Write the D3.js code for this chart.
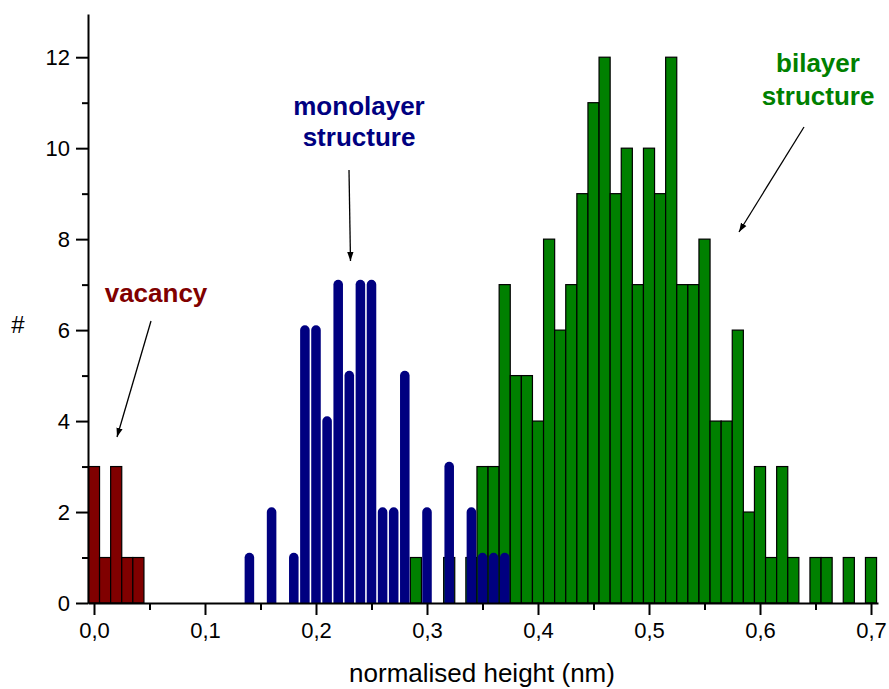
<!DOCTYPE html>
<html>
<head>
<meta charset="utf-8">
<script src="https://cdn.jsdelivr.net/npm/d3@7"></script>
<style>
  html, body { margin: 0; padding: 0; background: #fff; }
  svg { display: block; }
  text { font-family: "Liberation Sans", Arial, sans-serif; }
</style>
</head>
<body>
<svg id="chart" width="889" height="689"></svg>
<script>
// Histogram of normalised heights, bins of 0.01 nm
const vacancyBins   = [0.00, 0.01, 0.02, 0.03, 0.04];
const vacancyCounts = [3, 1, 3, 1, 1];

const monolayerBins   = [0.14, 0.16, 0.18, 0.19, 0.20, 0.21, 0.22, 0.23, 0.24, 0.25,
                         0.26, 0.27, 0.28, 0.30, 0.32, 0.34, 0.35, 0.36, 0.37];
const monolayerCounts = [1, 2, 1, 6, 6, 4, 7, 5, 7, 7,
                         2, 2, 5, 2, 3, 2, 1, 1, 1];

const bilayerBins   = [0.29, 0.32, 0.34, 0.35, 0.36, 0.37, 0.38, 0.39, 0.40, 0.41,
                       0.42, 0.43, 0.44, 0.45, 0.46, 0.47, 0.48, 0.49, 0.50, 0.51,
                       0.52, 0.53, 0.54, 0.55, 0.56, 0.57, 0.58, 0.59, 0.60, 0.61,
                       0.62, 0.63, 0.65, 0.66, 0.68, 0.70];
const bilayerCounts = [1, 1, 1, 3, 3, 7, 5, 5, 4, 8,
                       6, 7, 9, 11, 12, 9, 10, 7, 10, 9,
                       12, 7, 7, 8, 4, 4, 6, 2, 3, 1,
                       3, 1, 1, 1, 1, 1];

const xTickValues = [0, 0.1, 0.2, 0.3, 0.4, 0.5, 0.6, 0.7];
const xMinorTicks = [0.05, 0.15, 0.25, 0.35, 0.45, 0.55, 0.65];
const yTickValues = [0, 2, 4, 6, 8, 10, 12];
const yMinorTicks = [1, 3, 5, 7, 9, 11];

const xTitle = "normalised height (nm)";
const yTitle = "#";
const labels = [
  { lines: ["vacancy"], color: "#800000", x: 156, y: 302, gap: 0 },
  { lines: ["monolayer", "structure"], color: "#000080", x: 359, y: 115, gap: 31 },
  { lines: ["bilayer", "structure"], color: "#008000", x: 818, y: 72, gap: 33 }
];
const arrows = [
  { from: [151, 321], to: [117, 437] },
  { from: [349, 170], to: [350.5, 261] },
  { from: [804, 127], to: [739, 232] }
];

const binWidth = 0.01;
const svg = d3.select("#chart");

const x = d3.scaleLinear().domain([-0.0054, 0.7063]).range([88, 878]);
const y = d3.scaleLinear().domain([0, 12.95]).range([603, 14]);

const commaFmt = v => d3.format(".1f")(v).replace(".", ",");

// defs: arrow head
svg.append("defs").append("marker")
  .attr("id", "head")
  .attr("viewBox", "0 0 10 10")
  .attr("refX", 10).attr("refY", 5)
  .attr("markerWidth", 9).attr("markerHeight", 9)
  .attr("markerUnits", "userSpaceOnUse")
  .attr("orient", "auto")
  .append("path")
  .attr("d", "M0,1.5 L10,5 L0,8.5 Z")
  .attr("fill", "#000");

// bilayer bars (plain histogram rectangles)
svg.append("g")
  .selectAll("rect")
  .data(bilayerBins.map((b, i) => ({ b, c: bilayerCounts[i] })))
  .join("rect")
  .attr("x", d => x(d.b - binWidth / 2))
  .attr("width", d => x(d.b + binWidth / 2) - x(d.b - binWidth / 2))
  .attr("y", d => y(d.c))
  .attr("height", d => y(0) - y(d.c))
  .attr("fill", "#008000")
  .attr("stroke", "#000")
  .attr("stroke-width", 1.2);

// vacancy bars
svg.append("g")
  .selectAll("rect")
  .data(vacancyBins.map((b, i) => ({ b, c: vacancyCounts[i] })))
  .join("rect")
  .attr("x", d => x(d.b - binWidth / 2))
  .attr("width", d => x(d.b + binWidth / 2) - x(d.b - binWidth / 2))
  .attr("y", d => y(d.c))
  .attr("height", d => y(0) - y(d.c))
  .attr("fill", "#800000")
  .attr("stroke", "#000")
  .attr("stroke-width", 1.2);

// monolayer bars: narrow columns with rounded tops
const colW = (x(binWidth) - x(0)) * 0.86;
const r = colW / 2;
svg.append("g")
  .selectAll("path")
  .data(monolayerBins.map((b, i) => ({ b, c: monolayerCounts[i] })))
  .join("path")
  .attr("d", d => {
    const cx = x(d.b), top = y(d.c), base = y(0);
    return `M${cx - r},${base} L${cx - r},${top} A${r},${r} 0 0 1 ${cx + r},${top} L${cx + r},${base} Z`;
  })
  .attr("fill", "#000080");

// axes
const gx = svg.append("g").attr("transform", `translate(0,${y(0)})`);
gx.call(d3.axisBottom(x).tickValues(xTickValues).tickFormat(commaFmt).tickSize(12).tickPadding(7).tickSizeOuter(0));
gx.append("g").call(d3.axisBottom(x).tickValues(xMinorTicks).tickFormat("").tickSize(7).tickSizeOuter(0))
  .select(".domain").remove();

const gy = svg.append("g").attr("transform", `translate(${x.range()[0]},0)`);
gy.call(d3.axisLeft(y).tickValues(yTickValues).tickSize(12).tickPadding(6).tickSizeOuter(0));
gy.append("g").call(d3.axisLeft(y).tickValues(yMinorTicks).tickFormat("").tickSize(6).tickSizeOuter(0))
  .select(".domain").remove();

svg.selectAll(".domain, .tick line").attr("stroke", "#000").attr("stroke-width", 2);
svg.selectAll(".tick text").attr("font-size", 22).attr("fill", "#000")
  .attr("font-family", "'Liberation Sans', Arial, sans-serif");

// axis titles
svg.append("text").attr("x", 482).attr("y", 682).attr("text-anchor", "middle")
  .attr("font-size", 26).text(xTitle);
svg.append("text").attr("x", 18).attr("y", 333).attr("text-anchor", "middle")
  .attr("font-size", 24).text(yTitle);

// annotations
labels.forEach(l => {
  const t = svg.append("text").attr("text-anchor", "middle")
    .attr("font-size", 26).attr("font-weight", "bold").attr("fill", l.color);
  l.lines.forEach((s, i) => t.append("tspan").attr("x", l.x).attr("y", l.y + i * l.gap).text(s));
});

svg.append("g").selectAll("line").data(arrows).join("line")
  .attr("x1", d => d.from[0]).attr("y1", d => d.from[1])
  .attr("x2", d => d.to[0]).attr("y2", d => d.to[1])
  .attr("stroke", "#000").attr("stroke-width", 1.3)
  .attr("marker-end", "url(#head)");
</script>
</body>
</html>
